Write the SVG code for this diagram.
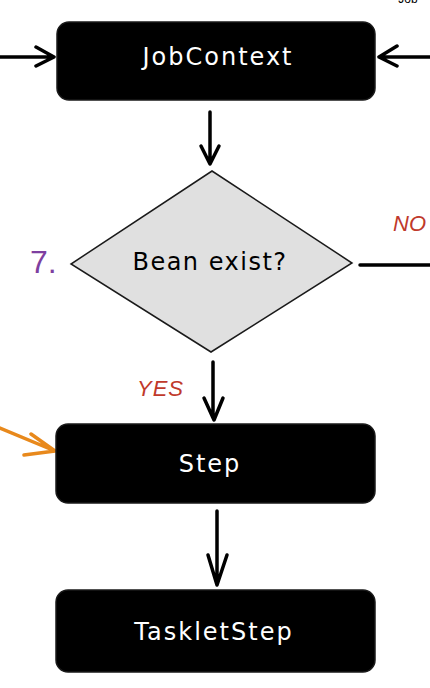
<svg xmlns="http://www.w3.org/2000/svg" width="430" height="688" viewBox="0 0 430 688">
<style>
.box{fill:#000;stroke:#1a1a1a;stroke-width:1.5}
.lbl{font-family:"DejaVu Sans","Liberation Sans",sans-serif;font-size:24px;letter-spacing:2px;fill:#fff;text-anchor:middle;dominant-baseline:central}
.edge{fill:none;stroke:#000;stroke-width:3.5;stroke-linecap:round;stroke-linejoin:round}
.red{font-family:"Liberation Sans",Arial,sans-serif;fill:#c0392b;font-style:italic}
</style>
<rect width="430" height="688" fill="#fff"/>
<text x="408" y="3" font-family="Liberation Sans,Arial,sans-serif" font-size="12" fill="#000" text-anchor="middle">Job</text>
<g id="connectors">
<path class="edge" d="M0 57 H53 M36 47 L54 57 L36 66"/>
<path class="edge" d="M430 57 H380 M397 46 L379 57 L397 66"/>
<path class="edge" d="M210 112 V163 M201 146 L210 164 L219 146"/>
<path class="edge" d="M360 265 H430"/>
<path class="edge" d="M213 362 V418 M204 398 L214 420 L223 398"/>
<path class="edge" d="M217 511 V584 M208 555 L217 585 L227 555"/>
<path d="M0 428 L55 451 M31 434 L55 451 L24 455" fill="none" stroke="#e8891c" stroke-width="3.5" stroke-linecap="round" stroke-linejoin="round"/>
</g>
<g id="jobcontext">
<rect class="box" x="57" y="22" width="318" height="78" rx="12"/>
<text class="lbl" x="218" y="57">JobContext</text>
</g>
<g id="decision">
<polygon points="212,171 352,263 211,352 71,264" fill="#e0e0e0" stroke="#1a1a1a" stroke-width="1.5"/>
<text x="210" y="262" font-family="DejaVu Sans,Liberation Sans,sans-serif" font-size="24" letter-spacing="1.5" fill="#000" text-anchor="middle" dominant-baseline="central">Bean exist?</text>
</g>
<text x="30" y="273" font-family="Liberation Sans,Arial,sans-serif" font-size="32" fill="#7e3fa0">7.</text>
<text class="red" x="393" y="231" font-size="22">NO</text>
<text class="red" x="137" y="396" font-size="22" letter-spacing="1">YES</text>
<g id="step">
<rect class="box" x="56" y="424" width="319" height="79" rx="12"/>
<text class="lbl" x="210" y="464">Step</text>
</g>
<g id="taskletstep">
<rect class="box" x="56" y="590" width="319" height="82" rx="12"/>
<text class="lbl" x="214" y="632">TaskletStep</text>
</g>
</svg>
